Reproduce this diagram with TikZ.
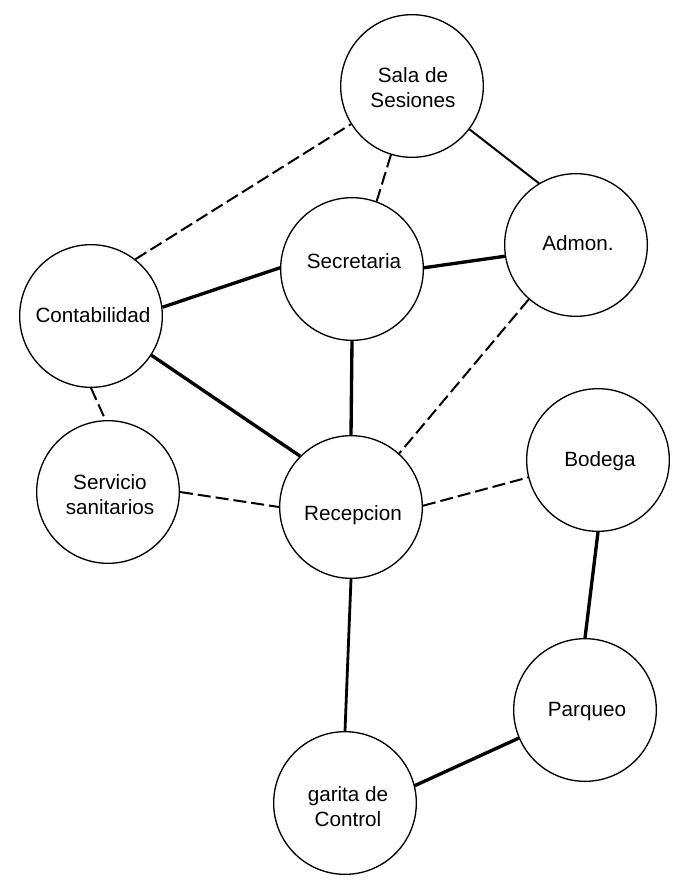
\documentclass[tikz,border=0pt]{standalone}
\usepackage{fontspec}
\setmainfont{Liberation Sans}
\begin{document}
\begin{tikzpicture}[x=0.75pt,y=-0.75pt,
  place/.style={circle,draw=black,line width=1pt,minimum size=107pt,inner sep=0pt,fill=white},
  lbl/.style={font=\fontsize{15.5}{18.75}\selectfont,inner sep=0pt,align=center},
  thk/.style={line width=2.5pt},
  med/.style={line width=2.1pt},
  thn/.style={line width=1.5pt},
  dsh/.style={line width=1.5pt,dash pattern=on 9.75pt off 3.75pt}]
\useasboundingbox (0,0) rectangle (677,882);
\fill[white] (0,0) rectangle (677,882);
% circles
\node[place] (sala) at (412,86) {};
\node[place] (adm) at (576,245) {};
\node[place] (sec) at (352,269) {};
\node[place] (con) at (91,316) {};
\node[place] (ser) at (108,492) {};
\node[place] (rec) at (351,507) {};
\node[place] (bod) at (598,460) {};
\node[place] (par) at (585,710) {};
\node[place] (gar) at (345,803) {};
% labels
\node[lbl] (salaT) at (413,88) {Sala de\\Sesiones};
\node[lbl,anchor=base] (admT) at (578,250) {Admon.};
\node[lbl,anchor=base] (secT) at (354,268) {Secretaria};
\node[lbl,anchor=base] (conT) at (93,322.5) {Contabilidad};
\node[lbl] (serT) at (110,495) {Servicio\\sanitarios};
\node[lbl,anchor=base] (recT) at (353,520) {Recepcion};
\node[lbl,anchor=base] (bodT) at (600,466) {Bodega};
\node[lbl,anchor=base] (parT) at (587,716) {Parqueo};
\node[lbl] (garT) at (348,807) {garita de\\Control};
% connectors
\draw[dsh] (con.52.8) -- (sala.212);
\draw[dsh] (sala.253) -- (sec.70);
\draw[thn] (sala.323) -- (adm.121.5);
\draw[thk] (con.7) -- (sec.179);
\draw[thk] (sec.1) -- (adm.189);
\draw[dsh] (adm.229.6) -- (rec.48.9);
\draw[thk] (sec.270) -- (rec.90);
\draw[thk] (con.327) -- (rec.135);
\draw[dsh] (con.270) -- (ser.92);
\draw[dsh] (ser.0) -- (rec.180);
\draw[dsh] (rec.1.6) -- (bod.194.6);
\draw[thk] (bod.270) -- (par.90);
\draw[med] (rec.270) -- (gar.90);
\draw[thk] (par.203.6) -- (gar.14.4);
\end{tikzpicture}
\end{document}
